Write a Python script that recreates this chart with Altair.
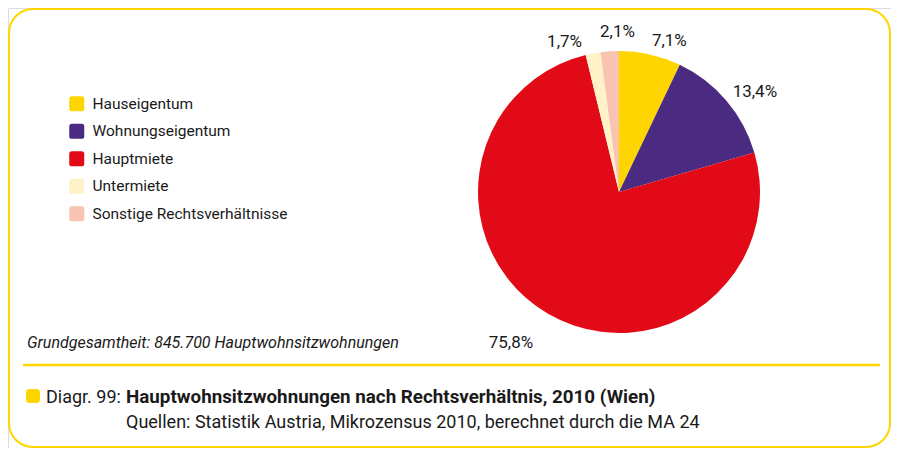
import altair as alt
import pandas as pd

# ---- data ----
categories = ["Hauseigentum", "Wohnungseigentum", "Hauptmiete", "Untermiete", "Sonstige Rechtsverhältnisse"]
shares = [7.1, 13.4, 75.8, 1.7, 2.1]
labels = ["7,1%", "13,4%", "75,8%", "1,7%", "2,1%"]
colors = ["#FFD500", "#4B2A82", "#E20A16", "#FFF1C8", "#F8C4B0"]

footnote = "Grundgesamtheit: 845.700 Hauptwohnsitzwohnungen"
caption_prefix = "Diagr. 99:"
caption_title = "Hauptwohnsitzwohnungen nach Rechtsverhältnis, 2010 (Wien)"
caption_source = "Quellen: Statistik Austria, Mikrozensus 2010, berechnet durch die MA 24"

df = pd.DataFrame({
    "cat": categories,
    "share": shares,
    "label": labels,
    "idx": list(range(len(categories))),
})

W, H = 883, 440
YELLOW = "#FFD500"
FONT = "Roboto"
TXT = "#1a1a1a"
CX, CY, R = 611, 184, 141
ROUNDED_SQUARE = ("M -1 -0.65 Q -1 -1 -0.65 -1 L 0.65 -1 Q 1 -1 1 -0.65 L 1 0.65 "
                  "Q 1 1 0.65 1 L -0.65 1 Q -1 1 -1 0.65 Z")

one = alt.Data(values=[{"k": 1}])

border = alt.Chart(one).mark_rect(
    fill="white", stroke=YELLOW, strokeWidth=2, cornerRadius=24
).encode(x=alt.value(1), x2=alt.value(882), y=alt.value(1), y2=alt.value(439))

separator = alt.Chart(one).mark_rule(color=YELLOW, strokeWidth=2.5).encode(
    x=alt.value(15), x2=alt.value(872), y=alt.value(357)
)

base = alt.Chart(df).encode(
    theta=alt.Theta("share:Q", stack=True),
    order=alt.Order("idx:Q"),
    x=alt.value(CX),
    y=alt.value(CY),
)

pie = base.mark_arc(outerRadius=R, strokeWidth=0).encode(
    color=alt.Color(
        "cat:N",
        scale=alt.Scale(domain=categories, range=colors),
        sort=categories,
        legend=alt.Legend(
            title=None,
            orient="none",
            legendX=61,
            legendY=88,
            symbolType=ROUNDED_SQUARE,
            symbolSize=225,
            symbolStrokeWidth=0,
            labelFont=FONT,
            labelFontSize=15.5,
            labelColor=TXT,
            labelOffset=8,
            labelLimit=0,
            rowPadding=10.5,
            padding=0,
        ),
    )
)

# small nudges of label placement (style), keyed by category
nudges = {
    "Hauseigentum": (15, 5),
    "Wohnungseigentum": (14, 4),
    "Hauptmiete": (-28, 12),
    "Untermiete": (-25, 7),
    "Sonstige Rechtsverhältnisse": (9, 0),
}
label_layers = []
for c in categories:
    ddx, ddy = nudges[c]
    label_layers.append(
        base.mark_text(radius=160, font=FONT, fontSize=17, color=TXT, dx=ddx, dy=ddy)
        .encode(text="label:N", opacity=alt.condition(alt.datum.cat == c, alt.value(1), alt.value(0)))
    )

foot = alt.Chart(one).mark_text(
    text=footnote, font=FONT, fontSize=16, fontStyle="italic", align="left", baseline="alphabetic", color=TXT
).encode(x=alt.value(19), y=alt.value(340))

swatch = alt.Chart(one).mark_rect(fill=YELLOW, cornerRadius=3).encode(
    x=alt.value(18), x2=alt.value(32), y=alt.value(381), y2=alt.value(395)
)

cap1 = alt.Chart(one).mark_text(
    text=caption_prefix, font=FONT, fontSize=18, align="left", baseline="alphabetic", color=TXT
).encode(x=alt.value(38), y=alt.value(395))

cap2 = alt.Chart(one).mark_text(
    text=caption_title, font=FONT, fontSize=18.8, fontWeight="bold", align="left", baseline="alphabetic", color=TXT
).encode(x=alt.value(118), y=alt.value(395))

cap3 = alt.Chart(one).mark_text(
    text=caption_source, font=FONT, fontSize=18, align="left", baseline="alphabetic", color=TXT
).encode(x=alt.value(118), y=alt.value(420))

chart = alt.layer(
    border, separator, pie, *label_layers, foot, swatch, cap1, cap2, cap3
).properties(
    width=W, height=H, autosize=alt.AutoSizeParams(type="none"), padding=0
).configure_view(stroke=None).configure(background="white")

chart.save("out.html", embed_options={"renderer": "svg", "actions": False})
